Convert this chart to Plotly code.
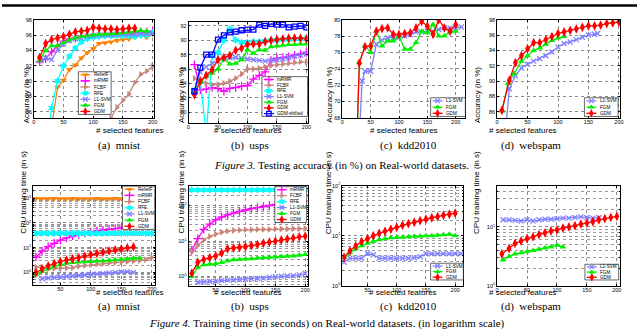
import plotly.graph_objects as go

W, H = 640, 336

# ---------------- Figure 3: accuracy (%) ----------------
feat = [10, 20, 30, 40, 50, 60, 70, 80, 90, 100, 110, 120, 130, 140, 150, 160, 170, 180, 190, 200]

# (a) mnist
mnist_relief_x = [30, 40, 50, 60, 70, 80, 90, 100, 110, 120, 130, 140, 150, 160, 170, 180, 190, 200]
mnist_relief = [84.0, 89.2, 90.1, 91.5, 92.1, 93.0, 93.7, 94.2, 94.9, 95.0, 95.1, 95.3, 95.4, 95.5, 95.7, 95.9, 95.7, 96.1]
mnist_mrmr = [92.5, 92.9, 93.8, 94.6, 95.2, 95.5, 95.6, 95.8, 95.9, 96.0, 96.0, 96.1, 96.1, 96.2, 96.2, 96.3, 96.3, 96.4, 96.4, 96.5]
mnist_fcbf_x = [120, 130, 140, 150, 160, 170, 180, 190, 200]
mnist_fcbf = [84.0, 85.2, 86.6, 87.5, 88.3, 89.8, 90.9, 91.3, 91.9]
mnist_rfe_x = [20, 30, 40, 50, 60, 70, 80, 90, 100, 110, 120, 130, 140, 150, 160, 170, 180, 190, 200]
mnist_rfe = [80.0, 86.5, 90.0, 92.0, 93.2, 94.3, 95.1, 95.5, 95.7, 95.8, 95.9, 95.9, 95.9, 95.9, 95.9, 95.8, 96.0, 96.0, 96.3]
mnist_l1 = [92.7, 93.0, 92.8, 94.0, 94.8, 95.3, 95.5, 95.6, 95.8, 95.9, 96.0, 96.0, 96.0, 96.1, 96.1, 96.1, 96.1, 96.2, 96.2, 96.2]
mnist_fgm_x = [10, 20, 30, 40, 50, 60, 70, 80, 90, 100, 110, 120, 130, 140, 150, 160, 170, 180, 190]
mnist_fgm = [92.7, 94.0, 94.6, 94.6, 95.0, 95.4, 95.6, 95.8, 95.9, 96.0, 96.1, 96.1, 96.2, 96.2, 96.3, 96.4, 96.5, 96.6, 96.5]
mnist_gdm_x = [10, 20, 30, 40, 50, 60, 70, 80, 90, 100, 110, 120, 130, 140, 150, 160, 170]
mnist_gdm = [93.1, 94.9, 95.4, 95.6, 95.8, 96.1, 96.4, 96.5, 96.6, 97.0, 96.9, 96.8, 96.8, 96.7, 96.8, 96.9, 96.9]

# (b) usps
usps_mrmr = [86.6, 83.1, 83.2, 83.4, 83.3, 82.9, 83.3, 83.4, 83.6, 83.7, 84.6, 85.1, 85.6, 87.2, 87.5, 87.6, 87.7, 87.9, 88.1, 88.3]
usps_fcbf = [84.7, 84.3, 84.0, 83.8, 83.8, 84.0, 84.3, 84.7, 85.3, 86.0, 86.0, 86.1, 86.3, 86.5, 86.6, 86.7, 86.8, 86.9, 87.0, 87.0]
usps_rfe = [82.9, 84.2, 77.0, 87.8, 88.3, 90.0, 91.6, 90.0, 89.7, 89.7, 89.8, 89.8, 89.9, 90.0, 90.0, 90.1, 90.1, 90.2, 90.2, 90.3]
usps_l1 = [83.0, 85.6, 86.3, 86.8, 87.1, 87.5, 87.6, 87.6, 87.5, 87.4, 87.3, 87.2, 87.1, 87.2, 87.3, 87.4, 87.6, 87.8, 87.9, 88.1]
usps_fgm = [82.8, 84.2, 85.0, 85.4, 86.0, 87.4, 86.7, 86.8, 87.3, 88.7, 88.2, 88.7, 88.6, 89.1, 89.2, 89.3, 89.4, 89.4, 89.5, 89.5]
usps_gdm = [82.4, 84.3, 85.1, 85.9, 87.3, 87.6, 87.9, 88.6, 88.9, 89.4, 89.5, 89.5, 89.8, 90.0, 90.1, 90.2, 90.3, 90.3, 90.3, 90.2]
usps_gdm_shift = [82.9, 86.2, 88.0, 88.0, 90.1, 90.7, 91.1, 91.2, 91.4, 91.5, 91.5, 92.2, 92.0, 92.3, 92.2, 92.2, 91.8, 91.9, 92.0, 91.8]

# (c) kdd2010
kdd_l1_x = [30, 35, 40, 50, 60, 70, 80, 90, 100, 110, 120, 130, 140, 150, 160, 170, 180, 190, 200, 210]
kdd_l1 = [66.0, 72.5, 73.7, 73.7, 77.0, 77.5, 77.8, 77.8, 77.8, 78.0, 78.2, 78.5, 78.5, 78.6, 78.6, 78.8, 79.0, 79.0, 79.0, 79.1]
kdd_fgm_x = [26, 30, 40, 50, 60, 70, 80, 90, 100, 110, 120, 130, 140, 150, 160, 170, 180, 190, 200]
kdd_fgm = [66.0, 74.8, 76.8, 76.0, 78.6, 76.8, 77.4, 77.4, 78.0, 76.4, 76.4, 77.2, 78.6, 78.4, 79.4, 78.0, 78.0, 78.5, 78.6]
kdd_gdm_x = [26, 30, 40, 50, 60, 70, 80, 90, 100, 110, 120, 130, 140, 150, 160, 170, 180, 190, 200]
kdd_gdm = [66.0, 74.7, 76.7, 76.8, 78.6, 78.9, 79.0, 78.2, 78.2, 78.3, 78.4, 79.0, 79.8, 79.2, 78.2, 80.0, 79.0, 78.6, 79.4]

# (d) webspam
web_l1_x = [15, 20, 30, 40, 50, 60, 70, 80, 90, 100, 110, 120, 130, 140, 150, 160, 165]
web_l1 = [84.5, 89.0, 90.7, 91.7, 92.2, 92.6, 92.9, 93.3, 93.8, 94.4, 94.9, 95.1, 95.4, 95.7, 96.0, 96.1, 96.2]
web_fgm_x = [8, 18, 28, 40, 50, 60, 70, 80, 90, 100, 110]
web_fgm = [86.1, 89.7, 91.0, 92.6, 93.3, 94.0, 94.3, 94.8, 95.3, 95.6, 95.8]
web_gdm_x = [8, 20, 30, 40, 50, 60, 70, 80, 90, 100, 110, 120, 130, 140, 150, 160, 170, 180, 190, 200]
web_gdm = [86.2, 90.1, 92.4, 93.3, 94.2, 95.0, 95.0, 95.4, 95.8, 96.2, 96.4, 96.6, 96.8, 97.0, 97.2, 97.2, 97.3, 97.5, 97.6, 97.7]

# ---------------- Figure 4: training time (s) ----------------
t_mnist_relief = [960, 950, 950, 960, 950, 950, 955, 950, 950, 950, 960, 950, 950, 955, 950, 950, 950, 950, 950, 950]
t_mnist_mrmr = [4.2, 7.2, 11, 15, 20, 25, 30, 34, 38, 43, 47, 51, 55, 59, 63, 68, 72, 76, 80, 84]
t_mnist_fcbf = [1.66, 1.62, 1.41, 1.45, 1.51, 1.51, 1.55, 1.78, 1.91, 2.04, 2.19, 2.29, 2.40, 2.51, 2.63, 2.75, 2.88, 3.02, 3.31, 3.98]
t_mnist_rfe = [38, 38, 38, 38, 38, 38, 38, 38, 38, 38, 38, 38, 38, 38, 38, 38, 38, 38, 38, 38]
t_mnist_l1_x = [20, 30, 40, 50, 60, 70, 80, 90, 100, 110, 120, 130, 140, 150, 160, 170]
t_mnist_l1 = [0.56, 0.60, 0.63, 0.66, 0.69, 0.72, 0.76, 0.79, 0.83, 0.87, 0.91, 0.95, 1.0, 1.05, 1.07, 1.0]
t_mnist_fgm_x = [10, 20, 30, 40, 50, 60, 70, 80, 90, 100, 110, 120, 130, 140, 150, 160, 170, 180]
t_mnist_fgm = [0.83, 1.12, 1.41, 1.78, 2.09, 2.34, 2.51, 2.63, 2.69, 2.75, 2.88, 2.95, 3.09, 3.24, 3.39, 3.55, 3.72, 3.80]
t_mnist_gdm_x = [10, 20, 30, 40, 50, 60, 70, 80, 90, 100, 110, 120, 130, 140, 150, 160, 170]
t_mnist_gdm = [1.0, 1.41, 1.86, 2.29, 2.75, 3.16, 3.55, 3.98, 4.57, 5.25, 5.89, 6.61, 7.41, 8.13, 8.91, 9.77, 10.7]

t_usps_mrmr = [5.5, 11.7, 21.4, 30.2, 39.8, 47.9, 55, 61.7, 69.2, 75.9, 83.2, 89.1, 95.5, 102, 110, 115, 120, 126, 132, 138]
t_usps_fcbf = [5.0, 7.6, 10.7, 13.5, 15.8, 17.8, 19.1, 20.0, 20.4, 20.9, 20.9, 21.4, 21.4, 21.4, 21.9, 21.9, 21.9, 22.4, 22.4, 22.9]
t_usps_rfe = [282, 282, 282, 282, 282, 282, 282, 282, 282, 282, 282, 282, 282, 282, 282, 282, 282, 282, 282, 282]
t_usps_l1_x = [20, 30, 40, 50, 60, 70, 80, 90, 100, 110, 120, 130, 140, 150, 160, 170, 180, 190, 200]
t_usps_l1 = [0.68, 0.69, 0.71, 0.72, 0.76, 0.78, 0.79, 0.81, 0.83, 0.85, 0.87, 0.89, 0.93, 0.98, 1.0, 1.02, 1.05, 1.10, 1.20]
t_usps_fgm = [1.0, 1.78, 2.14, 2.19, 2.29, 2.45, 2.75, 2.95, 3.02, 3.09, 3.16, 3.31, 3.39, 3.47, 3.55, 3.63, 3.72, 3.80, 3.98, 4.17]
t_usps_gdm = [1.23, 2.51, 3.02, 3.39, 3.80, 4.57, 6.03, 6.31, 6.61, 6.92, 7.41, 7.94, 8.71, 9.33, 10.0, 10.7, 11.5, 12.3, 13.2, 13.8]

t_kdd_l1_x = [10, 20, 30, 40, 50, 60, 70, 80, 90, 100, 110, 120, 130, 140, 150, 160, 170, 180, 190, 200, 210]
t_kdd_l1 = [2.95, 3.55, 3.55, 3.55, 4.47, 4.17, 3.55, 3.55, 3.55, 3.55, 3.55, 3.55, 3.63, 3.80, 4.37, 4.37, 4.37, 4.37, 4.37, 4.37, 4.37]
t_kdd_fgm = [3.72, 4.57, 5.50, 6.31, 7.08, 7.76, 8.32, 8.71, 9.12, 9.33, 9.33, 9.55, 9.77, 9.77, 10.0, 10.0, 10.2, 10.5, 10.7, 10.0]
t_kdd_gdm = [3.72, 5.01, 6.31, 7.59, 8.71, 10.0, 11.2, 12.3, 13.5, 14.8, 16.2, 17.4, 18.6, 20.0, 21.4, 22.9, 24.0, 25.7, 26.9, 28.2]

t_web_l1_x = [10, 20, 30, 40, 50, 60, 70, 80, 90, 100, 110, 120, 130, 140, 150, 160, 170]
t_web_l1 = [13.2, 13.2, 12.9, 12.6, 13.2, 12.6, 13.2, 13.5, 13.5, 13.8, 14.1, 14.1, 14.5, 14.8, 14.5, 14.1, 14.3]
t_web_fgm_x = [10, 20, 30, 40, 50, 60, 70, 80, 90, 100, 110]
t_web_fgm = [2.75, 3.16, 3.47, 3.63, 3.80, 3.98, 4.17, 4.37, 4.57, 4.90, 4.57]
t_web_gdm_x = [8, 20, 30, 40, 50, 60, 70, 80, 90, 100, 110, 120, 130, 140, 150, 160, 170, 180, 190, 200]
t_web_gdm = [3.47, 4.27, 5.25, 5.75, 6.31, 6.76, 7.41, 7.94, 8.51, 8.91, 9.55, 10.0, 10.5, 11.2, 11.7, 12.3, 13.2, 13.8, 14.5, 15.1]

STYLE = {
    "ReliefF": ("#FF8000", "triangle-down", 6),
    "mRMR": ("#FF00FF", "cross-thin", 6),
    "FCBF": ("#C8867A", "triangle-right", 6),
    "RFE": ("#00FFFF", "hexagram", 6),
    "L1-SVM": ("#8080FF", "x-thin", 5),
    "FGM": ("#00EE00", "triangle-up", 6),
    "GDM": ("#FF0000", "diamond-tall", 7),
    "GDM-shifted": ("#0000FF", "square-open", 5),
}


def X(p):
    return p / W


def Y(p):
    return 1 - p / H


def mk(name):
    c, s, z = STYLE[name]
    thin = s.endswith("thin") or s.endswith("open")
    return dict(symbol=s, size=z, color=c, line=dict(color=c, width=1.3 if thin else 0))


panels = [
    # top row: accuracy
    dict(box=(32, 17, 153, 117), xr=[0, 202], yr=[85.2, 98], yt=[86, 88, 90, 92, 94, 96, 98],
         xt=[0, 50, 100, 150, 200],
         series=[("ReliefF", mnist_relief_x, mnist_relief), ("mRMR", feat, mnist_mrmr),
                 ("FCBF", mnist_fcbf_x, mnist_fcbf), ("RFE", mnist_rfe_x, mnist_rfe),
                 ("L1-SVM", feat, mnist_l1), ("FGM", mnist_fgm_x, mnist_fgm), ("GDM", mnist_gdm_x, mnist_gdm)],
         leg=(77, 70, 110, 113.5)),
    dict(box=(188, 19, 308, 122), xr=[0, 202], yr=[78.5, 92.6], yt=[80, 82, 84, 86, 88, 90, 92],
         xt=[0, 50, 100, 150, 200],
         series=[("mRMR", feat, usps_mrmr), ("FCBF", feat, usps_fcbf), ("RFE", feat, usps_rfe),
                 ("L1-SVM", feat, usps_l1), ("FGM", feat, usps_fgm), ("GDM", feat, usps_gdm),
                 ("GDM-shifted", feat, usps_gdm_shift)],
         leg=(262, 75, 308, 115.5)),
    dict(box=(343, 17, 467, 117), xr=[0, 217], yr=[68, 80], yt=[68, 70, 72, 74, 76, 78, 80],
         xt=[0, 50, 100, 150, 200],
         series=[("L1-SVM", kdd_l1_x, kdd_l1), ("FGM", kdd_fgm_x, kdd_fgm), ("GDM", kdd_gdm_x, kdd_gdm)],
         leg=(432, 96.5, 467, 115.5)),
    dict(box=(499, 17, 623, 117), xr=[0, 202], yr=[85.2, 98], yt=[86, 88, 90, 92, 94, 96, 98],
         xt=[0, 50, 100, 150, 200],
         series=[("L1-SVM", web_l1_x, web_l1), ("FGM", web_fgm_x, web_fgm), ("GDM", web_gdm_x, web_gdm)],
         leg=(587, 96.5, 621, 115.5)),
    # bottom row: time
    dict(box=(31.5, 186, 154, 287), xr=[5.5, 205], yr=[-0.5, 3.5], log=True, dec=[0, 1, 2, 3],
         xt=[50, 100, 150, 200],
         series=[("ReliefF", feat, t_mnist_relief), ("mRMR", feat, t_mnist_mrmr), ("FCBF", feat, t_mnist_fcbf),
                 ("RFE", feat, t_mnist_rfe), ("L1-SVM", t_mnist_l1_x, t_mnist_l1),
                 ("FGM", t_mnist_fgm_x, t_mnist_fgm), ("GDM", t_mnist_gdm_x, t_mnist_gdm)],
         leg=(121.5, 186.5, 154, 230.5)),
    dict(box=(188, 186, 308, 288), xr=[4.5, 204], yr=[-0.27, 2.57], log=True, dec=[0, 1, 2],
         xt=[50, 100, 150, 200],
         series=[("mRMR", feat, t_usps_mrmr), ("FCBF", feat, t_usps_fcbf), ("RFE", feat, t_usps_rfe),
                 ("L1-SVM", t_usps_l1_x, t_usps_l1), ("FGM", feat, t_usps_fgm), ("GDM", feat, t_usps_gdm)],
         leg=(275, 187, 307, 223.5)),
    dict(box=(343, 186, 465, 288), xr=[7, 214], yr=[0, 2], log=True, dec=[0, 1, 2],
         xt=[50, 100, 150, 200],
         series=[("L1-SVM", t_kdd_l1_x, t_kdd_l1), ("FGM", feat, t_kdd_fgm), ("GDM", feat, t_kdd_gdm)],
         leg=(432, 265, 465, 282)),
    dict(box=(499, 186, 623, 288), xr=[0, 205.5], yr=[0, 1.7], log=True, dec=[0, 1],
         xt=[0, 50, 100, 150, 200],
         series=[("L1-SVM", t_web_l1_x, t_web_l1), ("FGM", t_web_fgm_x, t_web_fgm), ("GDM", t_web_gdm_x, t_web_gdm)],
         leg=(587.5, 266, 621.5, 282)),
]

fig = go.Figure()
layout = {}
tickfont = dict(family="Liberation Sans, Arial", size=5.5, color="black")
grid = dict(showgrid=True, gridcolor="#8a8a8a", gridwidth=0.6, griddash="dot")

for i, p in enumerate(panels, start=1):
    sx = "" if i == 1 else str(i)
    l, t, r, b = p["box"]
    for name, xs, ys in p["series"]:
        c = STYLE[name][0]
        fig.add_trace(go.Scatter(x=xs, y=ys, mode="lines+markers", line=dict(color=c, width=1.3),
                                 marker=mk(name), xaxis="x" + sx, yaxis="y" + sx, showlegend=False))
    layout["xaxis" + sx] = dict(domain=[X(l), X(r)], anchor="y" + sx, range=p["xr"], tickvals=p["xt"],
                                showline=True, linecolor="black", linewidth=0.8, mirror="ticks",
                                ticks="inside", ticklen=2, tickwidth=0.6, tickcolor="black",
                                ticklabelstandoff=-1, tickfont=tickfont, zeroline=False, **grid)
    ya = dict(domain=[Y(b), Y(t)], anchor="x" + sx, range=p["yr"], showline=True, linecolor="black",
              linewidth=0.8, mirror="ticks", ticks="inside", ticklen=2, tickwidth=0.6, tickcolor="black",
              tickfont=tickfont, zeroline=False, **grid)
    if p.get("log"):
        minor_vals = [m * 10 ** d for d in range(-1, 4) for m in range(2, 10)]
        ya.update(type="log", tickvals=[10 ** d for d in p["dec"]],
                  ticktext=["10<sup>%d</sup>" % d for d in p["dec"]],
                  minor=dict(tickvals=minor_vals, showgrid=True, gridcolor="#9a9a9a", gridwidth=0.5,
                             griddash="dot", ticks="inside", ticklen=1, tickcolor="black"))
    else:
        ya.update(tickvals=p["yt"])
    layout["yaxis" + sx] = ya

# overlay axis in pixel units for the legend boxes
layout["xaxis9"] = dict(domain=[0, 1], range=[0, W], visible=False, anchor="y9")
layout["yaxis9"] = dict(domain=[0, 1], range=[H, 0], visible=False, anchor="x9")

annotations = []
for p in panels:
    x0, y0, x1, y1 = p["leg"]
    names = [s[0] for s in p["series"]]
    fig.add_trace(go.Scatter(x=[x0, x1, x1, x0, x0], y=[y0, y0, y1, y1, y0], mode="lines", fill="toself",
                             fillcolor="white", line=dict(color="black", width=0.6),
                             xaxis="x9", yaxis="y9", showlegend=False, hoverinfo="skip"))
    step = (y1 - y0) / len(names)
    lx0, lx1 = x0 + 2, x0 + 12
    for k, name in enumerate(names):
        yy = y0 + step * (k + 0.5)
        c = STYLE[name][0]
        fig.add_trace(go.Scatter(x=[lx0, lx1], y=[yy, yy], mode="lines", line=dict(color=c, width=1.3),
                                 xaxis="x9", yaxis="y9", showlegend=False, hoverinfo="skip"))
        m = mk(name)
        m["size"] = m["size"] * 0.9
        fig.add_trace(go.Scatter(x=[(lx0 + lx1) / 2], y=[yy], mode="markers", marker=m,
                                 xaxis="x9", yaxis="y9", showlegend=False, hoverinfo="skip"))
        annotations.append(dict(x=X(lx1 + 1.5), y=Y(yy), xref="paper", yref="paper", text=name,
                                showarrow=False, xanchor="left", yanchor="middle",
                                font=dict(family="Liberation Sans, Arial", size=4.6, color="black")))

label_font = dict(family="Liberation Sans, Arial", size=8, color="black")
serif = dict(family="Liberation Serif, Times New Roman", size=11, color="black")
caps = ["(a)  mnist", "(b)  usps", "(c)  kdd2010", "(d)  webspam"]
cap_x = [95, 250, 410, 565]
acc_ylab_x = [19, 175, 330.5, 486.5]
time_ylab_x = [15, 174, 328.5, 485]

for j in range(4):
    l, t, r, b = panels[j]["box"]
    annotations.append(dict(x=X(acc_ylab_x[j]), y=Y(63), xref="paper", yref="paper", text="Accuracy (in %)",
                            textangle=-90, showarrow=False, font=label_font))
    annotations.append(dict(x=X((l + r) / 2), y=Y(129.5), xref="paper", yref="paper", text="# selected features",
                            showarrow=False, font=label_font))
    annotations.append(dict(x=X(cap_x[j]), y=Y(145), xref="paper", yref="paper", text=caps[j],
                            showarrow=False, font=serif))
    l, t, r, b = panels[j + 4]["box"]
    annotations.append(dict(x=X(time_ylab_x[j]), y=Y(237), xref="paper", yref="paper",
                            text="CPU training time (in s)", textangle=-90, showarrow=False, font=label_font))
    annotations.append(dict(x=X((l + r) / 2), y=Y(301.5), xref="paper", yref="paper", text="# selected features",
                            showarrow=False, font=label_font))
    annotations.append(dict(x=X(cap_x[j]), y=Y(318), xref="paper", yref="paper", text=caps[j],
                            showarrow=False, font=serif))

annotations.append(dict(x=X(342), y=Y(165), xref="paper", yref="paper", showarrow=False, font=serif,
                        text="<i>Figure 3.</i> Testing accuracy (in %) on Real-world datasets."))
annotations.append(dict(x=X(328), y=Y(335), xref="paper", yref="paper", showarrow=False, font=serif,
                        text="<i>Figure 4.</i> Training time (in seconds) on Real-world datasets. (in logarithm scale)"))

layout["annotations"] = annotations
layout["shapes"] = [dict(type="line", xref="paper", yref="paper", x0=0, x1=1, y0=Y(2.5), y1=Y(2.5),
                         line=dict(color="black", width=2.5))]

fig.update_layout(width=W, height=H, margin=dict(l=0, r=0, t=0, b=0), paper_bgcolor="white",
                  plot_bgcolor="rgba(0,0,0,0)", showlegend=False, **layout)

# drop the default page margin so the figure sits at the window's top-left corner
fig.write_html("out.html", config={"displayModeBar": False},
               post_script="document.body.style.margin = '0px';")
